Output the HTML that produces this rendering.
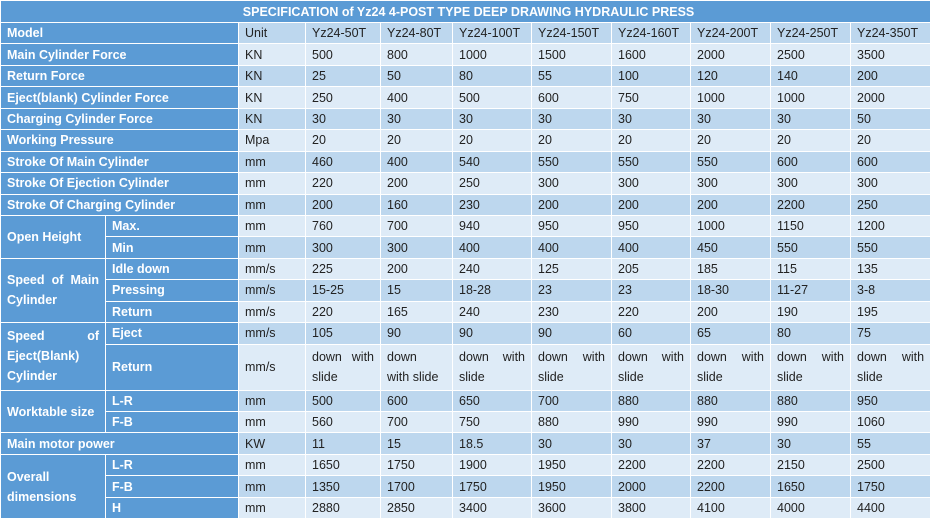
<!DOCTYPE html>
<html><head><meta charset="utf-8"><style>
body{margin:0;width:930px;height:518px;overflow:hidden;background:#fff;font-family:"Liberation Sans",sans-serif;font-size:12.5px}
table{border-collapse:collapse;table-layout:fixed;width:930px}
td{border:1px solid #fff;padding:0 0 0 6px;height:20.45px;color:#222;white-space:nowrap;overflow:hidden}
td.h{background:#5b9bd5;color:#fff;font-weight:bold}
tr.a td{background:#bdd7ee}
tr.b td{background:#deebf7}
tr td.h{background:#5b9bd5}
.t td{background:#5b9bd5;color:#fff;font-weight:bold;text-align:center;height:21px}
.f{display:flex;justify-content:space-between;padding-right:6px}
.l{line-height:20px}
</style></head><body>
<table>
<colgroup><col style="width:105px"><col style="width:133px"><col style="width:67px"><col style="width:75px"><col style="width:72px"><col style="width:79px"><col style="width:80px"><col style="width:79px"><col style="width:80px"><col style="width:80px"><col style="width:80px"></colgroup>
<tr class="t"><td colspan="11">SPECIFICATION of Yz24 4-POST TYPE DEEP DRAWING HYDRAULIC PRESS</td></tr>
<tr class="a"><td class="h" colspan="2">Model</td><td>Unit</td><td>Yz24-50T</td><td>Yz24-80T</td><td>Yz24-100T</td><td>Yz24-150T</td><td>Yz24-160T</td><td>Yz24-200T</td><td>Yz24-250T</td><td>Yz24-350T</td></tr>
<tr class="b"><td class="h" colspan="2">Main Cylinder Force</td><td>KN</td><td>500</td><td>800</td><td>1000</td><td>1500</td><td>1600</td><td>2000</td><td>2500</td><td>3500</td></tr>
<tr class="a"><td class="h" colspan="2">Return Force</td><td>KN</td><td>25</td><td>50</td><td>80</td><td>55</td><td>100</td><td>120</td><td>140</td><td>200</td></tr>
<tr class="b"><td class="h" colspan="2">Eject(blank) Cylinder Force</td><td>KN</td><td>250</td><td>400</td><td>500</td><td>600</td><td>750</td><td>1000</td><td>1000</td><td>2000</td></tr>
<tr class="a"><td class="h" colspan="2">Charging Cylinder Force</td><td>KN</td><td>30</td><td>30</td><td>30</td><td>30</td><td>30</td><td>30</td><td>30</td><td>50</td></tr>
<tr class="b"><td class="h" colspan="2">Working Pressure</td><td>Mpa</td><td>20</td><td>20</td><td>20</td><td>20</td><td>20</td><td>20</td><td>20</td><td>20</td></tr>
<tr class="a"><td class="h" colspan="2">Stroke Of Main Cylinder</td><td>mm</td><td>460</td><td>400</td><td>540</td><td>550</td><td>550</td><td>550</td><td>600</td><td>600</td></tr>
<tr class="b"><td class="h" colspan="2">Stroke Of Ejection Cylinder</td><td>mm</td><td>220</td><td>200</td><td>250</td><td>300</td><td>300</td><td>300</td><td>300</td><td>300</td></tr>
<tr class="a"><td class="h" colspan="2">Stroke Of Charging Cylinder</td><td>mm</td><td>200</td><td>160</td><td>230</td><td>200</td><td>200</td><td>200</td><td>2200</td><td>250</td></tr>
<tr class="b"><td class="h" rowspan="2">Open Height</td><td class="h">Max.</td><td>mm</td><td>760</td><td>700</td><td>940</td><td>950</td><td>950</td><td>1000</td><td>1150</td><td>1200</td></tr>
<tr class="a"><td class="h">Min</td><td>mm</td><td>300</td><td>300</td><td>400</td><td>400</td><td>400</td><td>450</td><td>550</td><td>550</td></tr>
<tr class="b"><td class="h l" rowspan="3"><div class="f"><span>Speed</span><span>of</span><span>Main</span></div>Cylinder</td><td class="h">Idle down</td><td>mm/s</td><td>225</td><td>200</td><td>240</td><td>125</td><td>205</td><td>185</td><td>115</td><td>135</td></tr>
<tr class="a"><td class="h">Pressing</td><td>mm/s</td><td>15-25</td><td>15</td><td>18-28</td><td>23</td><td>23</td><td>18-30</td><td>11-27</td><td>3-8</td></tr>
<tr class="b"><td class="h">Return</td><td>mm/s</td><td>220</td><td>165</td><td>240</td><td>230</td><td>220</td><td>200</td><td>190</td><td>195</td></tr>
<tr class="a"><td class="h l" rowspan="2"><div class="f"><span>Speed</span><span>of</span></div>Eject(Blank)<br>Cylinder</td><td class="h">Eject</td><td>mm/s</td><td>105</td><td>90</td><td>90</td><td>90</td><td>60</td><td>65</td><td>80</td><td>75</td></tr>
<tr class="b" style="height:46px"><td class="h">Return</td><td>mm/s</td>
<td class="l"><div class="f"><span>down</span><span>with</span></div>slide</td>
<td class="l">down<br>with slide</td>
<td class="l"><div class="f"><span>down</span><span>with</span></div>slide</td>
<td class="l"><div class="f"><span>down</span><span>with</span></div>slide</td>
<td class="l"><div class="f"><span>down</span><span>with</span></div>slide</td>
<td class="l"><div class="f"><span>down</span><span>with</span></div>slide</td>
<td class="l"><div class="f"><span>down</span><span>with</span></div>slide</td>
<td class="l"><div class="f"><span>down</span><span>with</span></div>slide</td></tr>
<tr class="a"><td class="h" rowspan="2">Worktable size</td><td class="h">L-R</td><td>mm</td><td>500</td><td>600</td><td>650</td><td>700</td><td>880</td><td>880</td><td>880</td><td>950</td></tr>
<tr class="b"><td class="h">F-B</td><td>mm</td><td>560</td><td>700</td><td>750</td><td>880</td><td>990</td><td>990</td><td>990</td><td>1060</td></tr>
<tr class="a"><td class="h" colspan="2">Main motor power</td><td>KW</td><td>11</td><td>15</td><td>18.5</td><td>30</td><td>30</td><td>37</td><td>30</td><td>55</td></tr>
<tr class="b"><td class="h l" rowspan="3">Overall<br>dimensions</td><td class="h">L-R</td><td>mm</td><td>1650</td><td>1750</td><td>1900</td><td>1950</td><td>2200</td><td>2200</td><td>2150</td><td>2500</td></tr>
<tr class="a"><td class="h">F-B</td><td>mm</td><td>1350</td><td>1700</td><td>1750</td><td>1950</td><td>2000</td><td>2200</td><td>1650</td><td>1750</td></tr>
<tr class="b"><td class="h">H</td><td>mm</td><td>2880</td><td>2850</td><td>3400</td><td>3600</td><td>3800</td><td>4100</td><td>4000</td><td>4400</td></tr>
</table>
</body></html>
